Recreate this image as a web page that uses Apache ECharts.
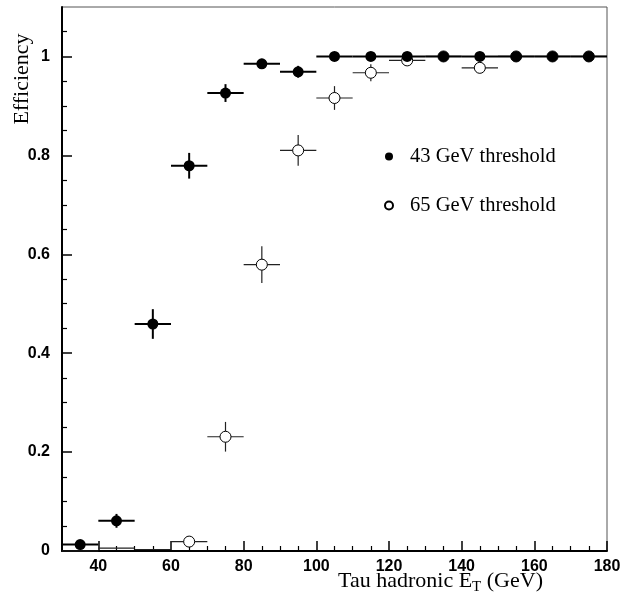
<!DOCTYPE html>
<html>
<head>
<meta charset="utf-8">
<script src="https://cdn.jsdelivr.net/npm/echarts@6/dist/echarts.min.js"></script>
<style>
html,body{margin:0;padding:0;background:#fff;}
#chart{width:621px;height:599px;}
</style>
</head>
<body>
<div id="chart"></div>
<script>
// ---- data ----
const binCenters = [35, 45, 55, 65, 75, 85, 95, 105, 115, 125, 135, 145, 155, 165, 175];
const binHalfWidth = 5;
const eff43 = [0.013, 0.061, 0.459, 0.779, 0.926, 0.985, 0.969, 1.0, 1.0, 1.0, 1.0, 1.0, 1.0, 1.0, 1.0];
const err43 = [0.004, 0.014, 0.030, 0.026, 0.018, 0.010, 0.012, 0, 0, 0, 0, 0, 0, 0, 0];
const eff65 = [0.0, 0.006, 0.003, 0.019, 0.231, 0.579, 0.810, 0.916, 0.967, 0.992, 1.0, 0.977, 1.0, 1.0, 1.0];
const err65 = [0, 0, 0, 0.005, 0.030, 0.037, 0.031, 0.024, 0.017, 0.008, 0, 0.008, 0, 0, 0];
const seriesNames = ['43 GeV threshold', '65 GeV threshold'];
const xMajorTicks = [40, 60, 80, 100, 120, 140, 160, 180];
const xMinorTicks = [35, 45, 50, 55, 65, 70, 75, 85, 90, 95, 105, 110, 115, 125, 130, 135, 145, 150, 155, 165, 170, 175];
const yMajorTicks = [0, 0.2, 0.4, 0.6, 0.8, 1];
const yMinorTicks = [0.05, 0.1, 0.15, 0.25, 0.3, 0.35, 0.45, 0.5, 0.55, 0.65, 0.7, 0.75, 0.85, 0.9, 0.95, 1.05];
const xRange = [30, 180];
const yRange = [0, 1.1];
const xTitle = 'Tau hadronic E';
const xTitleSub = 'T';
const xTitleTail = ' (GeV)';
const yTitle = 'Efficiency';
// minimum efficiency for which a marker is drawn (tiny bins show only their bar)
const markerThreshold = 0.01;

function pts(eff, err) {
  return binCenters.map((x, i) => [x, eff[i], err[i]]);
}

function errorBars(color, width) {
  return function (params, api) {
    const x = api.value(0), y = api.value(1), e = api.value(2);
    const l = api.coord([x - binHalfWidth, y]);
    const r = api.coord([x + binHalfWidth, y]);
    const children = [{
      type: 'line',
      shape: { x1: l[0], y1: l[1], x2: r[0], y2: r[1] },
      style: { stroke: color, lineWidth: width }
    }];
    if (e > 0) {
      const lo = api.coord([x, y - e]);
      const hi = api.coord([x, Math.min(y + e, yRange[1])]);
      children.push({
        type: 'line',
        shape: { x1: lo[0], y1: lo[1], x2: hi[0], y2: hi[1] },
        style: { stroke: color, lineWidth: width }
      });
    }
    return { type: 'group', children: children };
  };
}

const labelFont = { fontFamily: 'Liberation Sans', fontWeight: 'bold', fontSize: 16, color: '#000' };

const chart = echarts.init(document.getElementById('chart'), null, { renderer: 'canvas' });
chart.setOption({
  animation: false,
  backgroundColor: '#fff',
  grid: { left: 62, right: 14, top: 7, bottom: 48, containLabel: false, outerBoundsMode: 'none',
          show: true, borderColor: '#555', borderWidth: 1, backgroundColor: 'transparent' },
  legend: {
    orient: 'vertical',
    left: 384, top: 146,
    padding: 0,
    itemGap: 28,
    itemWidth: 8, itemHeight: 8,
    data: seriesNames,
    textStyle: { fontFamily: 'Liberation Serif', fontSize: 20.5, color: '#000', padding: [0, 0, 0, 12] },
    selectedMode: false
  },
  xAxis: [{
    type: 'value', min: xRange[0], max: xRange[1],
    name: xTitle + '{sub|' + xTitleSub + '}' + xTitleTail,
    nameLocation: 'middle', nameGap: 17, nameMoveOverlap: false,
    nameTextStyle: {
      fontFamily: 'Liberation Serif', fontSize: 22, color: '#000',
      padding: [0, 0, 0, 212],
      rich: { sub: { fontFamily: 'Liberation Serif', fontSize: 15, verticalAlign: 'bottom', padding: [12, 0, 0, 0] } }
    },
    axisLine: { show: true, lineStyle: { color: '#000', width: 2 } },
    axisTick: { show: true, inside: true, length: 10, customValues: xMajorTicks, lineStyle: { color: '#000', width: 1.5 } },
    axisLabel: Object.assign({ customValues: xMajorTicks, margin: 8 }, labelFont),
    splitLine: { show: false }
  }, {
    type: 'value', min: xRange[0], max: xRange[1], position: 'bottom',
    axisLine: { show: false },
    axisTick: { show: true, inside: true, length: 5, customValues: xMinorTicks, lineStyle: { color: '#000', width: 1.2 } },
    axisLabel: { show: false },
    splitLine: { show: false }
  }],
  yAxis: [{
    type: 'value', min: yRange[0], max: yRange[1],
    name: yTitle, nameLocation: 'middle', nameGap: 29, nameRotate: 90, nameMoveOverlap: false,
    nameTextStyle: { fontFamily: 'Liberation Serif', fontSize: 22, color: '#000', padding: [0, 0, 0, 400] },
    axisLine: { show: true, lineStyle: { color: '#000', width: 2 } },
    axisTick: { show: true, inside: true, length: 10, customValues: yMajorTicks, lineStyle: { color: '#000', width: 1.5 } },
    axisLabel: Object.assign({ customValues: yMajorTicks, margin: 12 }, labelFont),
    splitLine: { show: false }
  }, {
    type: 'value', min: yRange[0], max: yRange[1], position: 'left',
    axisLine: { show: false },
    axisTick: { show: true, inside: true, length: 5, customValues: yMinorTicks, lineStyle: { color: '#000', width: 1.2 } },
    axisLabel: { show: false },
    splitLine: { show: false }
  }],
  series: [{
    type: 'custom', name: 'err65', renderItem: errorBars('#222', 1.2),
    data: pts(eff65, err65), encode: { x: 0, y: 1 }, z: 2, silent: true
  }, {
    type: 'scatter', name: seriesNames[1],
    data: pts(eff65, err65).filter(p => p[1] >= markerThreshold),
    symbol: 'circle', symbolSize: 11,
    itemStyle: { color: '#fff', borderColor: '#000', borderWidth: 1, opacity: 1 },
    z: 3
  }, {
    type: 'custom', name: 'err43', renderItem: errorBars('#000', 2),
    data: pts(eff43, err43), encode: { x: 0, y: 1 }, z: 4, silent: true
  }, {
    type: 'scatter', name: seriesNames[0],
    data: pts(eff43, err43),
    symbol: 'circle', symbolSize: 11,
    itemStyle: { color: '#000', borderColor: '#000', borderWidth: 0, opacity: 1 },
    z: 5
  }]
});
</script>
</body>
</html>
